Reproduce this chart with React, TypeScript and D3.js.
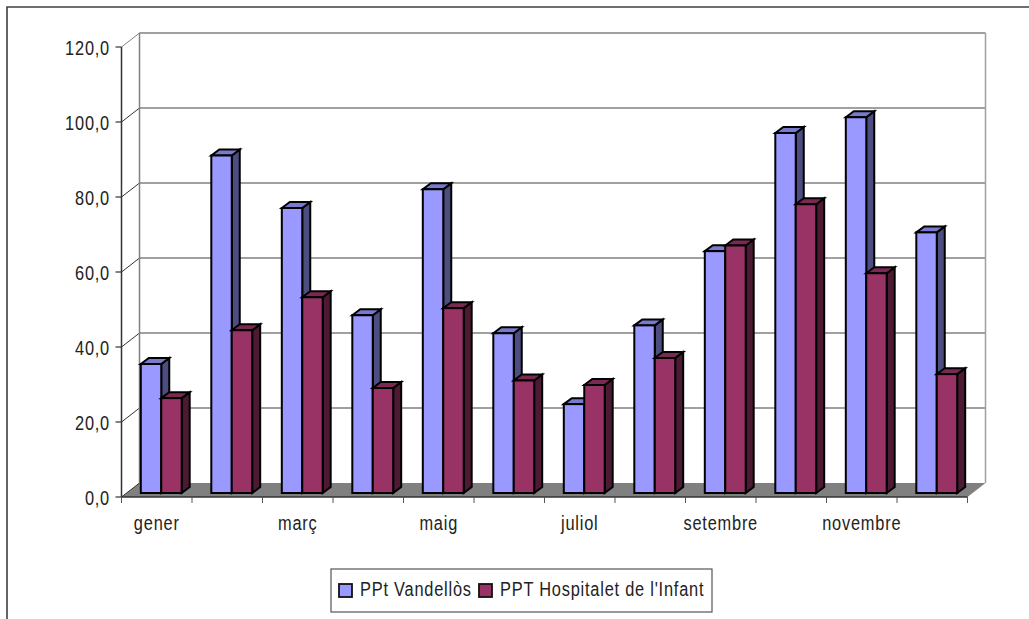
import React from 'react';
import * as d3 from 'd3';

const months = ['gener', 'febrer', 'març', 'abril', 'maig', 'juny', 'juliol', 'agost', 'setembre', 'octubre', 'novembre', 'desembre'];
const vandellos = [34.4, 90.0, 76.0, 47.4, 81.0, 42.6, 23.7, 44.7, 64.5, 96.0, 100.2, 69.5];
const hospitalet = [25.3, 43.4, 52.2, 28.0, 49.3, 30.0, 28.8, 36.0, 66.0, 77.0, 58.6, 31.7];
const yTicks = [0, 20, 40, 60, 80, 100, 120];
const seriesNames = ['PPt Vandellòs', "PPT Hospitalet de l'Infant"];

const width = 1029;
const height = 619;
const font = '"Liberation Sans", sans-serif';

// front plane of the 3D box and how far the back wall is pushed
const left = 121.5;
const right = 967.5;
const bottom = 497;
const top = 47;
const depthX = 18;
const depthY = -14;
// bars stand a little inside the floor and have their own shallow depth
const barInsetX = 4.5;
const barInsetY = -4;
const barDepthX = 8;
const barDepthY = -6;

const x = d3.scaleBand().domain(months).range([left, right]).paddingInner(0.42).paddingOuter(0.21);
const inner = d3.scaleBand().domain(seriesNames).range([0, x.bandwidth()]);
const y = d3.scaleLinear().domain([0, 120]).range([bottom, top]);

const colors = [
  { front: '#9999ff', top: '#7a7acc', side: '#4d4d80' },
  { front: '#993366', top: '#7a2952', side: '#4d1a33' },
];

const poly = (pts: number[][]) => d3.line()(pts as [number, number][]) + 'Z';

// no narrow face is installed, so squeeze a bigger regular one and open it up a bit
function NarrowText({ x: tx, y: ty, anchor, children }: { x: number; y: number; anchor?: string; children: React.ReactNode }) {
  return (
    <text transform={`translate(${tx},${ty}) scale(0.78,1)`} textAnchor={anchor || 'start'} fontFamily={font} fontSize={21} letterSpacing={1} fill="#222">
      {children}
    </text>
  );
}

function Bar({ bx, value, bw, c }: { bx: number; value: number; bw: number; c: typeof colors[0] }) {
  const x0 = bx + barInsetX;
  const x1 = x0 + bw;
  const yb = bottom + barInsetY;
  const yt = y(value) + barInsetY;
  return (
    <g stroke="#000" strokeWidth={2} strokeLinejoin="miter">
      <path d={poly([[x1, yb], [x1 + barDepthX, yb + barDepthY], [x1 + barDepthX, yt + barDepthY], [x1, yt]])} fill={c.side} />
      <path d={poly([[x0, yt], [x0 + barDepthX, yt + barDepthY], [x1 + barDepthX, yt + barDepthY], [x1, yt]])} fill={c.top} />
      <rect x={x0} y={yt} width={bw} height={yb - yt} fill={c.front} />
    </g>
  );
}

export default function App() {
  const step = x.step();
  const tickXs = d3.range(months.length + 1).map((i) => left + i * step);

  return (
    <svg width={width} height={height} style={{ position: 'absolute', left: 0, top: 0, background: '#fff' }}>
      {/* outer chart frame, cut off at the right and bottom of the picture */}
      <path d="M7,640V7H1040" fill="none" stroke="#404040" strokeWidth={1.6} />

      {/* floor */}
      <path d={poly([[left, bottom], [left + depthX, bottom + depthY], [right + depthX, bottom + depthY], [right, bottom]])} fill="#808080" />

      {/* back wall + gridlines */}
      {yTicks.map((t) => (
        <g key={t}>
          {t > 0 && <line x1={left + depthX} x2={right + depthX} y1={y(t) + depthY} y2={y(t) + depthY} stroke="#808080" strokeWidth={1.5} />}
          <line x1={left} x2={left + depthX} y1={y(t)} y2={y(t) + depthY} stroke={t === 120 ? '#808080' : '#333'} strokeWidth={1} />
        </g>
      ))}
      <line x1={left + depthX} x2={left + depthX} y1={top + depthY} y2={bottom + depthY} stroke="#808080" strokeWidth={1.5} />
      <line x1={right + depthX} x2={right + depthX} y1={top + depthY} y2={bottom + depthY} stroke="#a0a0a0" strokeWidth={1.5} />

      {/* bars */}
      {months.map((m, i) => (
        <g key={m}>
          <Bar bx={x(m)! + inner(seriesNames[0])!} value={vandellos[i]} bw={inner.bandwidth()} c={colors[0]} />
          <Bar bx={x(m)! + inner(seriesNames[1])!} value={hospitalet[i]} bw={inner.bandwidth()} c={colors[1]} />
        </g>
      ))}

      {/* y axis */}
      <line x1={left} x2={left} y1={top} y2={bottom} stroke="#333" strokeWidth={1.5} />
      {yTicks.map((t) => (
        <g key={t}>
          <line x1={left - 6} x2={left} y1={y(t)} y2={y(t)} stroke="#333" strokeWidth={1.2} />
          <NarrowText x={110} y={y(t) + 7.5} anchor="end">
            {t.toFixed(1).replace('.', ',')}
          </NarrowText>
        </g>
      ))}

      {/* x axis */}
      <line x1={left} x2={right} y1={bottom} y2={bottom} stroke="#333" strokeWidth={1.6} />
      {tickXs.map((tx) => (
        <line key={tx} x1={tx} x2={tx} y1={bottom} y2={bottom + 6} stroke="#555" strokeWidth={1} />
      ))}
      {months.map((m, i) =>
        i % 2 === 0 ? (
          <NarrowText key={m} x={left + (i + 0.5) * step} y={530} anchor="middle">
            {m}
          </NarrowText>
        ) : null
      )}

      {/* legend */}
      <rect x={331} y={569} width={381} height={43} fill="#fff" stroke="#555" strokeWidth={1.2} />
      <rect x={339} y={584} width={13} height={13} fill={colors[0].front} stroke="#111" strokeWidth={1.8} />
      <NarrowText x={360} y={596}>{seriesNames[0]}</NarrowText>
      <rect x={479} y={584} width={13} height={13} fill={colors[1].front} stroke="#111" strokeWidth={1.8} />
      <NarrowText x={500} y={596}>{seriesNames[1]}</NarrowText>
    </svg>
  );
}
